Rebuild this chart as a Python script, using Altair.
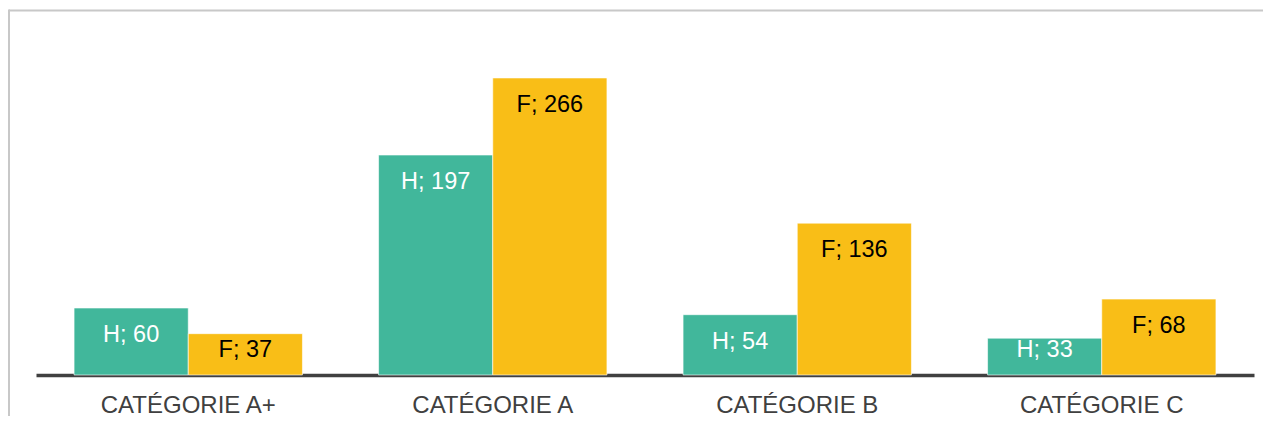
import altair as alt
import pandas as pd

categories = ["CATÉGORIE A+", "CATÉGORIE A", "CATÉGORIE B", "CATÉGORIE C"]
series = ["H", "F"]
hommes = [60, 197, 54, 33]
femmes = [37, 266, 136, 68]

rows = []
for c, h, f in zip(categories, hommes, femmes):
    rows.append({"cat": c, "serie": "H", "value": h, "label": f"H; {h}"})
    rows.append({"cat": c, "serie": "F", "value": f, "label": f"F; {f}"})
df = pd.DataFrame(rows)

W, H = 1218, 335
PAD_L, PAD_T = 28, 32

x = alt.X("cat:N", sort=categories,
          scale=alt.Scale(paddingInner=0.25, paddingOuter=0.125),
          axis=alt.Axis(title=None, labelAngle=0, ticks=False, grid=False,
                        domainColor="#404040", domainWidth=3.5,
                        labelFontSize=24, labelColor="#404040",
                        labelFont="Liberation Sans",
                        labelPadding=37, labelBaseline="alphabetic"))
xo = alt.XOffset("serie:N", sort=series, scale=alt.Scale(paddingInner=0))
yscale = alt.Scale(domain=[0, 300], nice=False)

base = alt.Chart(df)

bars = base.mark_bar(stroke="#ffffff", strokeWidth=1, strokeOpacity=0.6).encode(
    x=x, xOffset=xo, y=alt.Y("value:Q", scale=yscale, axis=None),
    color=alt.Color("serie:N", scale=alt.Scale(domain=series, range=["#41B79B", "#F9BE17"]), legend=None),
)

# labels sit inside the bar end, but never lower than a minimum height above the axis
labels = base.transform_calculate(ly="max(datum.value, 46.5)").mark_text(
    baseline="alphabetic", dy=34, fontSize=23.5, font="Liberation Sans").encode(
    x=x, xOffset=xo, y=alt.Y("ly:Q", scale=yscale, axis=None), text="label:N",
    color=alt.Color("serie:N", scale=alt.Scale(domain=series, range=["#ffffff", "#000000"]), legend=None),
)

one = pd.DataFrame({"k": [0]})
border_top = alt.Chart(one).mark_rule(color="#c8c8c8", strokeWidth=2).encode(
    x=alt.value(-27), x2=alt.value(1240), y=alt.value(-29.5))
border_left = alt.Chart(one).mark_rule(color="#c8c8c8", strokeWidth=2).encode(
    x=alt.value(-27), y=alt.value(-30.5), y2=alt.value(420))

chart = alt.layer(border_top, border_left, bars, labels).resolve_scale(
    color="independent"
).properties(
    width=W, height=H,
    autosize=alt.AutoSizeParams(type="none"),
    padding={"left": PAD_L, "top": PAD_T, "right": 9, "bottom": 41},
).configure(font="Liberation Sans").configure_view(stroke="transparent", strokeWidth=0)

chart.save("out.html", embed_options={"renderer": "svg", "actions": False})
